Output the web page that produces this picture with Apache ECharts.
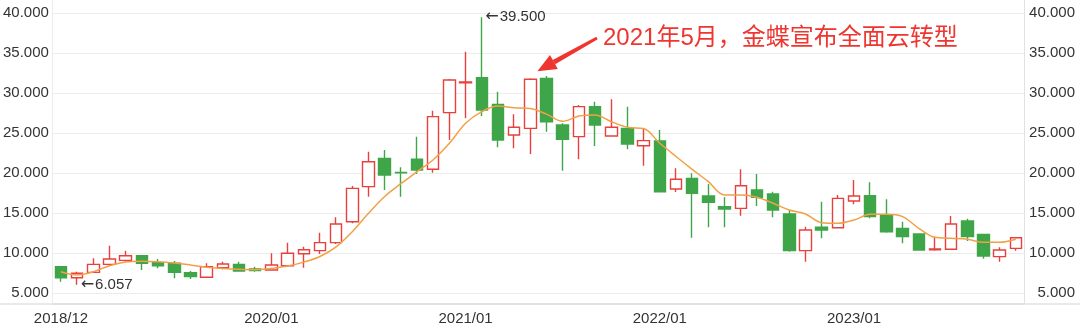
<!DOCTYPE html>
<html>
<head>
<meta charset="utf-8">
<script src="https://cdn.jsdelivr.net/npm/echarts@6/dist/echarts.min.js"></script>
<style>html,body{margin:0;padding:0;background:#fff;}#c{width:1080px;height:328px;}</style>
</head>
<body>
<div id="c"></div>
<script>
const categories = [
  '2018/12','2019/01','2019/02','2019/03','2019/04','2019/05','2019/06','2019/07','2019/08','2019/09','2019/10','2019/11',
  '2019/12','2020/01','2020/02','2020/03','2020/04','2020/05','2020/06','2020/07','2020/08','2020/09','2020/10','2020/11',
  '2020/12','2021/01','2021/02','2021/03','2021/04','2021/05','2021/06','2021/07','2021/08','2021/09','2021/10','2021/11',
  '2021/12','2022/01','2022/02','2022/03','2022/04','2022/05','2022/06','2022/07','2022/08','2022/09','2022/10','2022/11',
  '2022/12','2023/01','2023/02','2023/03','2023/04','2023/05','2023/06','2023/07','2023/08','2023/09','2023/10','2023/11'
];
const opens = [
  8.33, 6.95, 7.62, 8.62, 9.12, 9.70, 8.83, 8.75, 7.58, 7.00, 8.20, 8.62,
  8.04, 7.91, 8.45, 9.95, 10.33, 11.33, 13.95, 18.33, 21.87, 20.12, 21.75, 20.50,
  27.58, 31.32, 31.95, 28.62, 24.79, 25.62, 31.87, 26.04, 24.58, 28.33, 24.66, 25.62,
  23.45, 24.04, 18.04, 19.37, 17.16, 15.83, 15.62, 17.91, 17.41, 14.91, 10.33, 13.25,
  13.20, 16.54, 17.20, 14.79, 13.12, 12.41, 10.45, 10.50, 14.04, 12.37, 9.58, 10.62
];
const closes = [
  6.95, 7.50, 8.62, 9.29, 9.70, 8.75, 8.45, 7.62, 7.08, 8.33, 8.66, 7.79,
  7.83, 8.54, 10.00, 10.45, 11.33, 13.66, 18.12, 21.45, 19.79, 20.05, 20.41, 27.08,
  31.66, 31.42, 27.91, 24.16, 25.75, 31.75, 26.45, 24.25, 28.33, 26.04, 25.75, 23.66,
  24.08, 17.70, 19.25, 17.50, 16.37, 15.54, 18.45, 17.00, 15.41, 10.33, 12.91, 12.91,
  16.87, 17.16, 14.58, 12.70, 12.08, 10.41, 10.55, 13.66, 12.08, 9.66, 10.41, 11.95
];
const lows = [
  6.45, 6.057, 7.55, 8.55, 8.95, 7.90, 8.12, 6.87, 6.79, 6.98, 8.00, 7.70,
  7.70, 7.88, 8.33, 8.20, 9.91, 11.16, 13.75, 17.08, 17.91, 17.08, 19.91, 20.08,
  24.16, 26.87, 27.16, 23.25, 23.12, 22.41, 25.20, 20.33, 21.75, 23.41, 24.60, 23.00,
  20.95, 17.65, 17.66, 11.95, 13.25, 13.25, 14.70, 15.91, 14.50, 10.20, 8.95, 11.87,
  13.15, 16.12, 14.37, 12.58, 11.25, 10.33, 10.33, 10.45, 11.54, 9.33, 8.95, 10.33
];
const highs = [
  8.40, 7.70, 9.37, 10.95, 10.33, 9.75, 9.29, 9.04, 7.79, 8.75, 8.95, 8.95,
  8.33, 10.00, 11.33, 10.83, 12.58, 14.50, 18.41, 22.70, 22.91, 20.75, 24.58, 27.83,
  31.80, 35.20, 39.50, 30.20, 27.37, 31.87, 32.16, 26.25, 28.54, 28.95, 29.25, 28.33,
  25.62, 25.41, 20.62, 20.00, 18.66, 17.00, 20.50, 19.91, 17.70, 15.41, 13.33, 16.45,
  17.29, 19.16, 18.87, 16.75, 13.95, 12.45, 12.08, 14.66, 14.33, 12.45, 10.75, 12.00
];
const maLine = [
  7.70, 7.30, 7.70, 8.45, 8.90, 9.00, 8.95, 8.80, 8.55, 8.25, 8.10, 8.00,
  7.95, 8.10, 8.40, 8.90, 9.60, 10.80, 12.70, 15.00, 17.10, 18.70, 20.20, 21.70,
  23.75, 26.25, 27.70, 28.40, 28.20, 28.10, 27.40, 26.50, 27.16, 27.30, 26.45, 25.75,
  25.60, 23.75, 22.10, 20.50, 18.95, 17.29, 17.29, 17.00, 16.25, 15.41, 14.91, 13.83,
  13.75, 14.16, 14.87, 14.87, 14.58, 13.12, 12.00, 11.87, 11.75, 11.37, 11.37, 11.75
];
const xLabelIdx = [0, 13, 25, 37, 49];
const yTicks = { min: 5, max: 40, step: 5 };
const noteText = '2021年5月，金蝶宣布全面云转型';
const noteIdx = 29;

const RED = '#e8403c', GREEN = '#3ea648', NOTE = '#ee3530';
const FONT = '"Liberation Sans", Arial, Helvetica, sans-serif';

const chart = echarts.init(document.getElementById('c'));
const ohlc = categories.map((c, i) => [opens[i], closes[i], lows[i], highs[i]]);
const hiIdx = highs.indexOf(Math.max(...highs));
const loIdx = lows.indexOf(Math.min(...lows));

const yLabel = {
  formatter: v => v.toFixed(3), color: '#333', fontSize: 15, fontFamily: FONT
};
const markRich = {
  a: { fontFamily: '"DejaVu Sans", sans-serif', fontSize: 16, color: '#333', padding: [0, 1, 0, 0] },
  v: { fontFamily: FONT, fontSize: 15, color: '#333' }
};

chart.setOption({
  animation: false,
  backgroundColor: '#fff',
  grid: { left: 52, right: 56, top: 13.3, bottom: 34.7 },
  xAxis: {
    type: 'category', data: categories, boundaryGap: true, offset: 10.7,
    axisLine: { lineStyle: { color: '#dedede', width: 1.5 } },
    axisTick: { show: false },
    splitLine: { show: false },
    axisLabel: {
      interval: (i) => xLabelIdx.includes(i),
      color: '#333', fontSize: 15, margin: 7, fontFamily: FONT
    }
  },
  yAxis: [
    {
      type: 'value', min: yTicks.min, max: yTicks.max, interval: yTicks.step, position: 'left',
      axisLine: { show: false }, axisTick: { show: false },
      splitLine: { lineStyle: { color: '#ececec', width: 1 } },
      axisLabel: Object.assign({ margin: 4 }, yLabel)
    },
    {
      type: 'value', min: yTicks.min, max: yTicks.max, interval: yTicks.step, position: 'right',
      axisLine: { show: false }, axisTick: { show: false },
      splitLine: { show: false },
      axisLabel: Object.assign({ margin: 51, align: 'right' }, yLabel)
    }
  ],
  series: [
    {
      type: 'candlestick', data: ohlc, barWidth: 12,
      itemStyle: { color: '#ffffff', color0: GREEN, borderColor: RED, borderColor0: GREEN, borderWidth: 1.4 },
      markPoint: {
        symbol: 'rect', symbolSize: 1,
        itemStyle: { color: 'rgba(0,0,0,0)' },
        label: { show: true, position: 'right', distance: 3, rich: markRich },
        data: [
          { coord: [categories[hiIdx], highs[hiIdx]], label: { formatter: '{a|←}{v|' + highs[hiIdx].toFixed(3) + '}' } },
          { coord: [categories[loIdx], lows[loIdx]], label: { formatter: '{a|←}{v|' + lows[loIdx].toFixed(3) + '}' } }
        ]
      }
    },
    {
      type: 'line', data: maLine, smooth: 0.35, symbol: 'none', yAxisIndex: 0,
      lineStyle: { color: '#f2a048', width: 1.5 }
    }
  ]
});

// annotation arrow pointing at the 2021/05 candle
const p = chart.convertToPixel({ xAxisIndex: 0, yAxisIndex: 0 }, [categories[noteIdx], highs[noteIdx]]);
const tip = [p[0] + 7, p[1] - 7];
const start = [597, 38];
const dx = tip[0] - start[0], dy = tip[1] - start[1];
const len = Math.hypot(dx, dy);
const ux = dx / len, uy = dy / len, nx = -uy, ny = ux;
const headLen = 19, headW = 8;
const base = [tip[0] - ux * headLen, tip[1] - uy * headLen];

chart.setOption({
  graphic: [
    { type: 'line', silent: true, shape: { x1: 0, y1: 304, x2: 1080, y2: 304 }, style: { stroke: '#e2e2e2', lineWidth: 1.5 } },
    { type: 'line', silent: true, shape: { x1: 52.5, y1: 0, x2: 52.5, y2: 304 }, style: { stroke: '#ececec', lineWidth: 1 } },
    { type: 'line', silent: true, shape: { x1: 1024.5, y1: 0, x2: 1024.5, y2: 304 }, style: { stroke: '#e2e2e2', lineWidth: 1 } },
    { type: 'polygon', silent: true, shape: { points: [
        [start[0] + nx * 1.5, start[1] + ny * 1.5],
        [base[0] + nx * 2.5, base[1] + ny * 2.5],
        [base[0] - nx * 2.5, base[1] - ny * 2.5],
        [start[0] - nx * 1.5, start[1] - ny * 1.5]
      ] }, style: { fill: NOTE } },
    { type: 'polygon', silent: true, shape: { points: [
        tip,
        [base[0] + nx * headW, base[1] + ny * headW],
        [base[0] - nx * headW, base[1] - ny * headW]
      ] }, style: { fill: NOTE } },
    { type: 'text', silent: true, x: 603, y: 38, style: {
        text: noteText, fill: NOTE, fontSize: 24,
        fontFamily: '"Liberation Sans", "Noto Sans CJK SC", sans-serif',
        verticalAlign: 'middle', align: 'left'
      } }
  ]
});
</script>
</body>
</html>
